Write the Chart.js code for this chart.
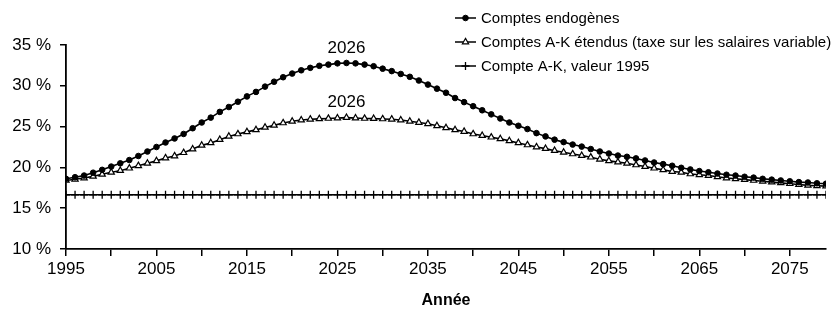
<!DOCTYPE html>
<html>
<head>
<meta charset="utf-8">
<script src="https://cdn.jsdelivr.net/npm/chart.js@4/dist/chart.umd.min.js"></script>
<style>
  html, body { margin: 0; padding: 0; background: #fff; }
  #wrap { width: 839px; height: 310px; position: relative; }
</style>
</head>
<body>
<div id="wrap"><canvas id="c" width="839" height="310"></canvas></div>
<script>
const years = [1995,1996,1997,1998,1999,2000,2001,2002,2003,2004,2005,2006,2007,2008,2009,2010,2011,2012,2013,2014,2015,2016,2017,2018,2019,2020,2021,2022,2023,2024,2025,2026,2027,2028,2029,2030,2031,2032,2033,2034,2035,2036,2037,2038,2039,2040,2041,2042,2043,2044,2045,2046,2047,2048,2049,2050,2051,2052,2053,2054,2055,2056,2057,2058,2059,2060,2061,2062,2063,2064,2065,2066,2067,2068,2069,2070,2071,2072,2073,2074,2075,2076,2077,2078,2079];

const seriesLabels = [
  "Comptes endogènes",
  "Comptes A-K étendus (taxe sur les salaires variable)",
  "Compte A-K, valeur 1995"
];

const endogenes = [18.6,18.8,19.0,19.35,19.7,20.1,20.5,20.9,21.4,21.95,22.5,23.05,23.55,24.1,24.8,25.5,26.1,26.8,27.4,28.05,28.7,29.25,29.9,30.5,31.05,31.5,31.9,32.2,32.45,32.6,32.75,32.8,32.75,32.6,32.4,32.1,31.8,31.45,31.1,30.65,30.15,29.65,29.15,28.5,28.0,27.5,27.0,26.5,26.0,25.5,25.1,24.7,24.2,23.8,23.4,23.1,22.8,22.55,22.25,21.95,21.7,21.45,21.3,21.1,20.85,20.6,20.4,20.2,19.95,19.75,19.55,19.4,19.25,19.1,19.0,18.85,18.75,18.6,18.5,18.4,18.3,18.2,18.15,18.05,18.0];

const etendus = [18.4,18.55,18.7,18.9,19.15,19.4,19.6,19.9,20.2,20.5,20.8,21.15,21.4,21.8,22.25,22.7,23.0,23.4,23.8,24.1,24.35,24.6,24.9,25.15,25.45,25.65,25.8,25.9,25.95,26.0,26.05,26.1,26.05,26.0,25.98,25.94,25.9,25.8,25.65,25.5,25.35,25.1,24.85,24.6,24.4,24.1,23.9,23.7,23.5,23.25,23.0,22.75,22.5,22.3,22.05,21.85,21.65,21.45,21.25,21.0,20.8,20.65,20.5,20.3,20.1,19.9,19.7,19.5,19.4,19.2,19.1,19.0,18.85,18.7,18.6,18.5,18.4,18.3,18.2,18.1,18.0,17.9,17.8,17.75,17.7];

const valeur1995 = [16.65,16.65,16.65,16.65,16.65,16.65,16.65,16.65,16.65,16.65,16.65,16.65,16.65,16.65,16.65,16.65,16.65,16.65,16.65,16.65,16.65,16.65,16.65,16.65,16.65,16.65,16.65,16.65,16.65,16.65,16.65,16.65,16.65,16.65,16.65,16.65,16.65,16.65,16.65,16.65,16.65,16.65,16.65,16.65,16.65,16.65,16.65,16.65,16.65,16.65,16.65,16.65,16.65,16.65,16.65,16.65,16.65,16.65,16.65,16.65,16.65,16.65,16.65,16.65,16.65,16.65,16.65,16.65,16.65,16.65,16.65,16.65,16.65,16.65,16.65,16.65,16.65,16.65,16.65,16.65,16.65,16.65,16.65,16.65,16.65];

const yTicks = [10, 15, 20, 25, 30, 35];
const xLabelYears = [1995, 2005, 2015, 2025, 2035, 2045, 2055, 2065, 2075];
const xAxisTitle = "Année";

const FONT = "'Liberation Sans', Arial, Helvetica, sans-serif";

function toXY(vals) { return vals.map((v, i) => ({ x: years[i], y: v })); }

// peak year label above the maximum of the first two curves
const peakLabels = {
  id: 'peakLabels',
  afterDatasetsDraw(chart) {
    const ctx = chart.ctx;
    const xs = chart.scales.x, ys = chart.scales.y;
    ctx.save();
    ctx.font = "17px " + FONT;
    ctx.fillStyle = "#000";
    ctx.textAlign = "center";
    ctx.textBaseline = "middle";
    [0, 1].forEach(di => {
      const d = chart.data.datasets[di].data;
      let best = d[0];
      d.forEach(p => { if (p.y > best.y) best = p; });
      ctx.fillText(String(best.x), xs.getPixelForValue(best.x), ys.getPixelForValue(best.y) - 15);
    });
    ctx.restore();
  }
};

// legend: short line sample with marker in the middle
const lineLegend = {
  id: 'lineLegend',
  afterDraw(chart) {
    const ctx = chart.ctx;
    ctx.save();
    const x0 = 455, x1 = 476, tx = 481;
    const rows = [18, 42, 66];
    chart.data.datasets.forEach((ds, i) => {
      const y = rows[i];
      ctx.strokeStyle = "#000";
      ctx.lineWidth = 1.5;
      ctx.beginPath(); ctx.moveTo(x0, y); ctx.lineTo(x1, y); ctx.stroke();
      ctx.fillStyle = ds.pointBackgroundColor;
      ctx.strokeStyle = ds.pointBorderColor;
      ctx.lineWidth = ds.pointBorderWidth;
      Chart.helpers.drawPoint(ctx, { pointStyle: ds.pointStyle, radius: ds.pointRadius, borderWidth: ds.pointBorderWidth }, (x0 + x1) / 2, y);
      ctx.fillStyle = "#000";
      ctx.font = "15px " + FONT;
      ctx.textAlign = "left";
      ctx.textBaseline = "middle";
      ctx.fillText(ds.label, tx, y + 1);
    });
    ctx.restore();
  }
};

new Chart(document.getElementById('c'), {
  type: 'line',
  data: {
    datasets: [
      {
        label: seriesLabels[0],
        data: toXY(endogenes),
        borderColor: '#000', borderWidth: 1.6,
        pointStyle: 'circle', pointRadius: 2.8,
        pointBackgroundColor: '#000', pointBorderColor: '#000', pointBorderWidth: 1,
        tension: 0
      },
      {
        label: seriesLabels[1],
        data: toXY(etendus),
        borderColor: '#000', borderWidth: 1.6,
        pointStyle: 'triangle', pointRadius: 3.6,
        pointBackgroundColor: '#fff', pointBorderColor: '#000', pointBorderWidth: 1.2,
        tension: 0
      },
      {
        label: seriesLabels[2],
        data: toXY(valeur1995),
        borderColor: '#000', borderWidth: 1.6,
        pointStyle: 'cross', pointRadius: 4,
        pointBackgroundColor: '#000', pointBorderColor: '#000', pointBorderWidth: 1.3,
        tension: 0
      }
    ]
  },
  options: {
    responsive: false,
    animation: false,
    devicePixelRatio: 1,
    layout: { padding: { top: 45, right: 13, left: 0, bottom: 0 } },
    plugins: {
      legend: { display: false },
      tooltip: { enabled: false }
    },
    scales: {
      x: {
        type: 'linear',
        min: years[0],
        max: years[years.length - 1],
        afterFit(scale) { scale.height = 61; },
        afterBuildTicks(scale) {
          const t = [];
          for (let v = years[0]; v <= years[years.length - 1]; v += 5) t.push({ value: v });
          scale.ticks = t;
        },
        ticks: {
          autoSkip: false,
          maxRotation: 0,
          padding: 3,
          color: '#000',
          font: { family: FONT, size: 17 },
          callback: (v) => xLabelYears.includes(v) ? String(v) : ''
        },
        grid: { drawOnChartArea: false, drawTicks: true, tickLength: 7, color: '#000', lineWidth: 1.5 },
        border: { display: true, color: '#000', width: 1.8 },
        title: {
          display: true,
          text: xAxisTitle,
          color: '#000',
          font: { family: FONT, size: 16, weight: 'bold' },
          padding: { top: 12, bottom: 0 }
        }
      },
      y: {
        min: yTicks[0],
        max: yTicks[yTicks.length - 1],
        afterFit(scale) { scale.width = 66; },
        afterBuildTicks(scale) { scale.ticks = yTicks.map(v => ({ value: v })); },
        ticks: {
          padding: 9,
          color: '#000',
          font: { family: FONT, size: 17 },
          callback: (v) => v + ' %'
        },
        grid: { drawOnChartArea: false, drawTicks: true, tickLength: 6, color: '#000', lineWidth: 1.5 },
        border: { display: true, color: '#000', width: 1.8 }
      }
    }
  },
  plugins: [peakLabels, lineLegend]
});
</script>
</body>
</html>
